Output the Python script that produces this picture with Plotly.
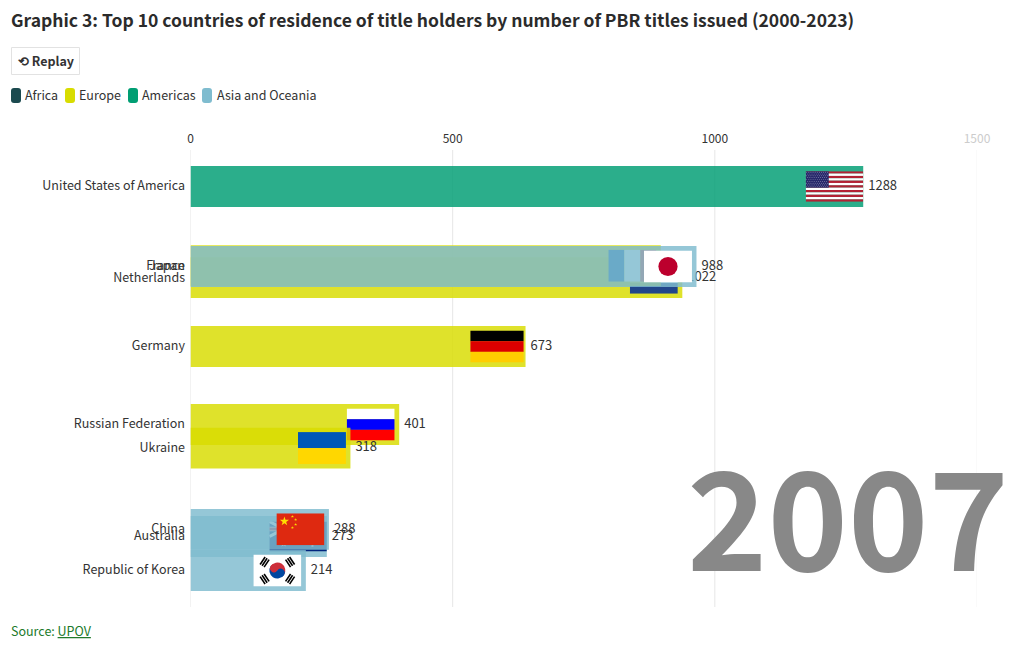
import base64
import math
import plotly.graph_objects as go

# ---- data (frame of the race for 2007) ----
countries = ["United States of America", "Germany", "Netherlands", "Russian Federation", "Australia",
             "France", "Ukraine", "China", "Republic of Korea", "Japan"]
regions = ["Americas", "Europe", "Europe", "Europe", "Asia and Oceania",
           "Europe", "Europe", "Asia and Oceania", "Asia and Oceania", "Asia and Oceania"]
bar_values = [1283, 639, 938, 398, 260, 897, 305, 264, 220, 965]
value_labels = ["1288", "673", "1022", "401", "273", "926", "318", "288", "214", "988"]
rank_positions = [0.0, 2.0, 1.14, 2.975, 4.375, 0.99, 3.27, 4.285, 4.8, 1.0]
paint_order = [0, 0, 0, 0, 0, 1, 1, 1, 1, 2]
flag_keys = ["us", "de", "nl", "ru", "au", "fr", "ua", "cn", "kr", "jp"]
flag_widths = [57.5, 53.5, 48, 48, 57.5, 48, 48, 48, 48, 48]
flag_heights = [30.5, 32, 32, 32, 30, 32, 32, 32, 32, 32]
flag_gaps = [0, 1.8, 4.5, 4.5, 0, 4.5, 4.5, 4.5, 4.5, 4.5]
legend_names = ["Africa", "Europe", "Americas", "Asia and Oceania"]
legend_colors = ["#1b4a4f", "#d8dc00", "#009e73", "#7fbccf"]
x_ticks = [0, 500, 1000, 1500]
title_text = "Graphic 3: Top 10 countries of residence of title holders by number of PBR titles issued (2000-2023)"
year_text = "2007"

FONT = "Noto Sans CJK SC, Noto Sans, sans-serif"
W, H = 1020, 650
L, R, T, B = 190.5, 977.0, 150.0, 607.0
region_color = dict(zip(legend_names, legend_colors))
xmax = 1500
rank_min, rank_max = -0.456, 5.256
px_per_x = (R - L) / xmax
px_per_rank = (B - T) / (rank_max - rank_min)


def svg(w, h, body):
    s = f'<svg xmlns="http://www.w3.org/2000/svg" width="{w*10}" height="{h*10}" viewBox="0 0 {w} {h}" preserveAspectRatio="none">{body}</svg>'
    return "data:image/svg+xml;base64," + base64.b64encode(s.encode()).decode()


def hstripes(cols):
    n = len(cols)
    return svg(48, 32, "".join(f'<rect x="0" y="{i*32/n}" width="48" height="{32/n+0.05}" fill="{c}"/>' for i, c in enumerate(cols)))


def us_flag():
    b = ""
    for i in range(13):
        b += f'<rect x="0" y="{i*10/13}" width="19" height="{10/13+0.01}" fill="{"#b22234" if i%2==0 else "#fff"}"/>'
    b += '<rect x="0" y="0" width="7.6" height="5.38" fill="#27286b"/>'
    for r in range(9):
        for c in range(11 if r % 2 == 0 else 10):
            cx = 0.35 + c * 0.69 + (0 if r % 2 == 0 else 0.35)
            b += f'<circle cx="{cx}" cy="{0.3+r*0.6}" r="0.11" fill="#fff"/>'
    return svg(19, 10, b)


def star(cx, cy, r, fill):
    pts = []
    for i in range(10):
        a = -math.pi / 2 + i * math.pi / 5
        rr = r if i % 2 == 0 else r * 0.382
        pts.append(f"{cx+rr*math.cos(a):.2f},{cy+rr*math.sin(a):.2f}")
    return f'<polygon points="{" ".join(pts)}" fill="{fill}"/>'


def cn_flag():
    b = '<rect width="48" height="32" fill="#de2910"/>' + star(8, 8, 4.8, "#ffde00")
    for (x, y) in [(16, 3.2), (19.2, 6.4), (19.2, 11.2), (16, 14.4)]:
        b += star(x, y, 1.6, "#ffde00")
    return svg(48, 32, b)


def au_flag():
    b = '<rect width="48" height="32" fill="#00247d"/>'
    b += '<path d="M0 0L24 16M24 0L0 16" stroke="#fff" stroke-width="3"/><path d="M12 0V16M0 8H24" stroke="#fff" stroke-width="5"/><path d="M12 0V16M0 8H24" stroke="#cf142b" stroke-width="3"/>'
    for (x, y, r) in [(36, 5, 1.6), (36, 26, 1.6), (31, 14, 1.6), (42, 12, 1.6), (12, 24, 3.2)]:
        b += star(x, y, r, "#fff")
    return svg(48, 32, b)


def kr_flag():
    b = '<rect width="48" height="32" fill="#fff"/>'
    b += '<g transform="translate(24 16) rotate(33.7)">'
    b += '<path d="M-8 0A8 8 0 0 1 8 0Z" fill="#cd2e3a"/><path d="M-8 0A8 8 0 0 0 8 0Z" fill="#0047a0"/>'
    b += '<circle cx="-4" cy="0" r="4" fill="#cd2e3a"/><circle cx="4" cy="0" r="4" fill="#0047a0"/></g>'
    for ang in [33.7, -33.7, 146.3, 213.7]:
        b += f'<g transform="translate(24 16) rotate({ang})">'
        for j in range(3):
            b += f'<rect x="{-18.5+j*2.4}" y="-4.5" width="1.6" height="9" fill="#000"/>'
        b += "</g>"
    return svg(48, 32, b)


def jp_flag():
    return svg(48, 32, '<rect width="48" height="32" fill="#fff"/><circle cx="24" cy="16" r="9.6" fill="#bc002d"/>')


def fr_flag():
    return svg(48, 32, '<rect width="16" height="32" fill="#0055a4"/><rect x="16" width="16" height="32" fill="#fff"/><rect x="32" width="16" height="32" fill="#ef4135"/>')


flag_src = {
    "us": us_flag(), "de": hstripes(["#000", "#dd0000", "#ffce00"]), "nl": hstripes(["#ae1c28", "#fff", "#21468b"]),
    "ru": hstripes(["#fff", "#0000ff", "#ff0000"]), "ua": svg(48, 32, '<rect width="48" height="16" fill="#0057b7"/><rect y="16" width="48" height="16" fill="#ffd700"/>'),
    "au": au_flag(), "fr": fr_flag(), "cn": cn_flag(), "kr": kr_flag(), "jp": jp_flag(),
}

fig = go.Figure()
n_layers = max(paint_order) + 2
label_gap_px = 5.0
category_lift_px = 0.5

for k in range(n_layers):
    idx = [i for i, p in enumerate(paint_order) if p == k]
    sfx = "" if k == 0 else str(k + 1)
    fig.add_trace(go.Bar(
        orientation="h",
        x=[bar_values[i] for i in idx],
        y=[rank_positions[i] for i in idx],
        width=0.51,
        marker=dict(color=[region_color[regions[i]] for i in idx], opacity=0.83, line=dict(width=0)),
        xaxis="x" + sfx, yaxis="y" + sfx,
        hoverinfo="skip", showlegend=False,
    ))
    fig.add_trace(go.Scatter(
        mode="text",
        x=[bar_values[i] + label_gap_px / px_per_x for i in idx],
        y=[rank_positions[i] for i in idx],
        text=[value_labels[i] for i in idx],
        textposition="middle right",
        cliponaxis=False,
        textfont=dict(family=FONT, size=13, color="#333333"),
        xaxis="x" + sfx, yaxis="y" + sfx,
        hoverinfo="skip", showlegend=False,
    ))

# each flag sits in the image layer of the next subplot: above its own bar, below later bars
images = []
for i, key in enumerate(flag_keys):
    sfx = str(paint_order[i] + 2)
    images.append(dict(
        source=flag_src[key], xref="x" + sfx, yref="y" + sfx, layer="below",
        x=bar_values[i] - flag_gaps[i] / px_per_x, y=rank_positions[i],
        sizex=flag_widths[i] / px_per_x, sizey=flag_heights[i] / px_per_rank,
        xanchor="right", yanchor="middle", sizing="stretch",
    ))

axis_common = dict(range=[0, xmax], domain=[L / W, R / W], fixedrange=True)
yaxis_common = dict(range=[rank_max, rank_min], domain=[1 - B / H, 1 - T / H], fixedrange=True)
layout_axes = {}
for k in range(n_layers):
    sfx = "" if k == 0 else str(k + 1)
    if k == 0:
        layout_axes["xaxis"] = dict(
            **axis_common, side="top", anchor="y", showgrid=False, zeroline=False, showline=False,
            tickmode="array", tickvals=x_ticks,
            ticktext=[str(t) if t < 1500 else f'<span style="color:#cccccc">{t}</span>' for t in x_ticks],
            ticks="", ticklabelstandoff=4,
            tickfont=dict(family=FONT, size=12, color="#333333"),
        )
        layout_axes["yaxis"] = dict(
            **yaxis_common, anchor="x", showgrid=False, zeroline=False, showline=False,
            tickmode="array", tickvals=[r - category_lift_px / px_per_rank for r in rank_positions], ticktext=countries,
            ticks="outside", ticklen=2, tickcolor="rgba(0,0,0,0)",
            tickfont=dict(family=FONT, size=12.5, color="#333333"),
        )
    else:
        layout_axes["xaxis" + sfx] = dict(**axis_common, visible=False, anchor="y" + sfx)
        layout_axes["yaxis" + sfx] = dict(**yaxis_common, visible=False, anchor="x" + sfx)


def px(x):
    return x / W


def py(y):
    return 1 - y / H


shapes = []
for t in x_ticks:
    shapes.append(dict(type="line", layer="below", xref="x", yref="paper", x0=t, x1=t, y0=py(B), y1=py(T),
                       line=dict(color="#e6e6e6" if t < 1500 else "#f4f4f4", width=1)))

annotations = []


def note(x, y, text, size, color="#333333", anchor="left", **kw):
    annotations.append(dict(xref="paper", yref="paper", x=px(x), y=py(y), text=text, showarrow=False,
                            xanchor=anchor, yanchor="middle", align="left",
                            font=dict(family=FONT, size=size, color=color), **kw))


# legend
swatch_x = [11, 65, 128, 202]
label_x = [22.5, 77, 140, 214.5]
for name, col, sx, lx in zip(legend_names, legend_colors, swatch_x, label_x):
    x0, x1, y0, y1, r = px(sx), px(sx + 10), py(88), py(103), 3
    rx, ry = r / W, r / H
    path = (f"M{x0+rx},{y0} L{x1-rx},{y0} Q{x1},{y0} {x1},{y0-ry} L{x1},{y1+ry} Q{x1},{y1} {x1-rx},{y1} "
            f"L{x0+rx},{y1} Q{x0},{y1} {x0},{y1+ry} L{x0},{y0-ry} Q{x0},{y0} {x0+rx},{y0} Z")
    shapes.append(dict(type="path", xref="paper", yref="paper", path=path, fillcolor=col, line=dict(width=0)))
    note(lx, 94.5, name, 12.5)

# replay button
shapes.append(dict(type="rect", xref="paper", yref="paper", x0=px(11.5), x1=px(79.5), y0=py(47.5), y1=py(74.5),
                   line=dict(color="#e2e2e2", width=1), fillcolor="#ffffff"))
note(16, 60.5, "<b>⟲ Replay</b>", 12.5)

note(9, 19.5, f"<b>{title_text}</b>", 17.5, color="#2b2b2b")
note(9, 630, 'Source: <u>UPOV</u>', 12.5, color="#217a2b")
note(1011, 511.5, f"<b>{year_text}</b>", 136.5, color="#888888", anchor="right")

fig.update_layout(
    width=W, height=H, margin=dict(l=0, r=0, t=0, b=0, autoexpand=False),
    paper_bgcolor="#ffffff", plot_bgcolor="rgba(0,0,0,0)",
    barmode="overlay", showlegend=False, images=images, shapes=shapes, annotations=annotations,
    **layout_axes,
)
fig.write_html("out.html", config={"displayModeBar": False}, post_script="document.body.style.margin='0';")
